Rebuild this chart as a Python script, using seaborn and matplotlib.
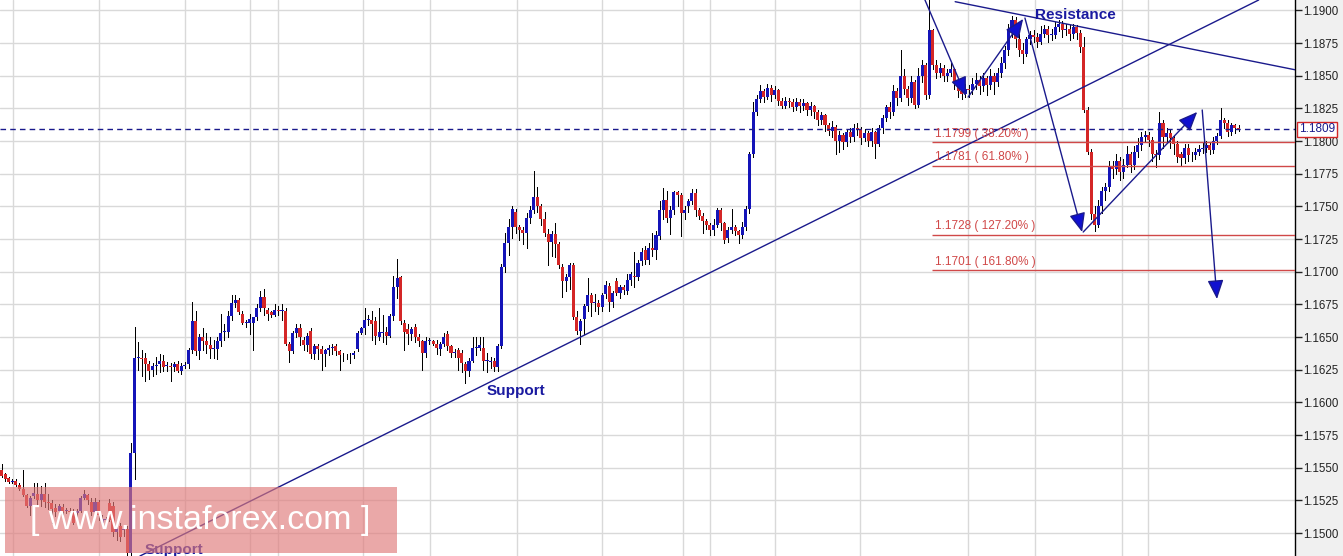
import numpy as np
import pandas as pd
import seaborn as sns
from matplotlib import pyplot as plt
from matplotlib.patches import Rectangle
import matplotlib.transforms as mtransforms

BASE = 1.1500  # all candle values below are pips above 1.1500

opens = [
    48, 45, 42, 39, 40, 37, 34, 29, 21, 28, 30, 25, 30, 24, 23, 19, 17, 20, 17, 17,
    17, 15, 17, 27, 29, 24, 16, 24, 8, 10, 23, 21, 1, 5, 2, 3, -15, 61,
    134, 134, 134, 129, 125, 128, 129, 132, 128, 128, 127, 129, 124, 128, 129, 140, 162, 139, 150, 147,
    144, 141, 141, 147, 154, 154, 166, 176, 178, 168, 161, 161,
    161, 165, 172, 181, 171, 169, 167, 171, 170, 170, 145, 139, 153, 157, 148, 144, 155, 137, 143, 141,
    137, 140, 142, 143, 139, 136, 136, 136, 136, 141, 153, 157, 163, 163, 162,
    150, 153, 154, 151, 166, 188, 196, 161, 156, 152, 158, 150, 147, 138, 147, 147, 145, 141, 145, 152,
    143, 138, 140, 138, 129, 124, 132, 142, 142, 142, 132, 131, 132, 127,
    143, 204, 222, 234, 246, 234, 232, 230, 241, 247, 257, 250, 240, 229, 223, 229, 221, 204, 193, 196,
    205, 165, 155, 164, 174, 182, 176, 176, 173, 183, 189, 177, 193, 184, 188, 185,
    194, 197, 196,
    208, 217, 209, 218, 217, 227, 247, 255, 241, 247, 261, 259, 245, 250, 254, 260, 247, 243, 239, 236,
    232, 236, 247, 237, 226, 232, 234, 231, 228, 234, 248, 290,
    322, 332, 338, 334, 341, 335, 339, 331, 327, 331, 330, 326, 330, 327, 329, 324, 327, 322, 316, 320,
    312, 308, 311, 300, 305, 299, 307, 303, 310, 309, 302, 306, 300, 307, 298, 310, 318, 326, 322, 338,
    333, 350, 340, 333, 345, 328, 350, 358, 335, 385, 358, 352, 356, 350, 352, 355, 345, 338, 336, 340,
    339, 344, 347, 342, 348, 343, 350, 345, 352, 360, 370, 385, 393, 378, 370, 367, 378, 381, 380, 376,
    382, 386, 381, 381, 387, 390, 385, 386, 382, 387, 383, 372, 324, 292, 244, 236, 250, 262, 265, 280,
    279, 285, 276, 282, 290, 282, 292, 297, 303, 305, 301, 290, 289, 314, 303, 306, 302, 298, 290, 287,
    295, 289, 289, 292, 294, 295, 297, 293, 300, 304, 316, 314, 307, 312, 310,
]
highs = [
    53, 46, 43, 41, 41, 38, 48, 30, 28, 38, 38, 36, 38, 30, 25, 22, 22, 22, 19, 19,
    18, 18, 28, 33, 30, 27, 27, 25, 14, 12, 26, 24, 5, 8, 5, 5, 69, 158,
    146, 140, 138, 132, 130, 135, 137, 136, 131, 130, 131, 132, 130, 131, 142, 177, 170, 152, 157, 153,
    150, 148, 150, 168, 160, 170, 182, 182, 180, 170, 163, 168,
    165, 175, 185, 187, 172, 170, 175, 174, 175, 172, 146, 155, 160, 160, 150, 153, 157, 145, 145, 143,
    141, 144, 145, 145, 140, 138, 137, 138, 139, 155, 158, 172, 167, 170, 165,
    172, 167, 158, 168, 197, 210, 197, 163, 160, 158, 160, 152, 148, 150, 149, 148, 148, 146, 153, 155,
    144, 141, 142, 140, 131, 134, 150, 150, 150, 150, 138, 135, 134, 145,
    206, 230, 240, 250, 248, 236, 234, 245, 250, 277, 265, 252, 246, 233, 231, 237, 223, 206, 198, 207,
    207, 170, 164, 175, 195, 184, 183, 178, 184, 193, 191, 185, 195, 190, 190, 198,
    200, 215, 209,
    218, 220, 222, 230, 231, 254, 264, 262, 250, 262, 262, 260, 250, 256, 263, 263, 249, 245, 240, 237,
    240, 249, 249, 238, 234, 248, 236, 232, 238, 250, 292, 330,
    335, 343, 340, 344, 343, 342, 340, 333, 334, 333, 332, 333, 332, 332, 330, 330, 328, 324, 322, 321,
    314, 315, 312, 308, 306, 309, 310, 313, 314, 311, 309, 308, 310, 308, 312, 320, 328, 330, 343, 341,
    370, 355, 342, 350, 347, 356, 362, 360, 408, 386, 362, 360, 358, 355, 360, 356, 348, 341, 344, 343,
    348, 352, 350, 352, 350, 355, 352, 356, 364, 373, 390, 396, 395, 382, 375, 380, 384, 385, 383, 388,
    389, 388, 386, 391, 393, 392, 390, 389, 390, 389, 385, 380, 326, 294, 250, 255, 265, 268, 285, 285,
    290, 288, 286, 296, 292, 296, 302, 307, 308, 307, 303, 293, 322, 316, 310, 309, 304, 300, 292, 298,
    298, 292, 295, 297, 299, 300, 299, 303, 306, 325, 318, 316, 314, 313, 312,
]
lows = [
    43, 40, 38, 38, 36, 33, 28, 20, 14, 27, 22, 21, 20, 18, 8, 13, 12, 14, 15, 15,
    7, 12, 16, 26, 22, 14, 13, 10, 6, 8, 9, -2, -5, -6, -2, -17, -17, 41,
    125, 120, 116, 118, 120, 122, 123, 124, 124, 116, 124, 123, 122, 126, 126, 138, 136, 133, 140, 138,
    134, 134, 133, 143, 148, 150, 163, 173, 168, 160, 158, 152,
    140, 163, 170, 167, 163, 165, 166, 167, 163, 144, 131, 138, 150, 144, 140, 139, 134, 133, 133, 125,
    128, 136, 137, 136, 125, 132, 133, 130, 134, 139, 152, 152, 159, 148, 145,
    148, 146, 145, 150, 163, 180, 160, 140, 145, 148, 146, 143, 125, 135, 145, 144, 137, 136, 143, 140,
    135, 135, 125, 123, 115, 120, 131, 136, 140, 125, 123, 126, 124, 124,
    142, 200, 213, 226, 230, 224, 221, 218, 237, 245, 246, 236, 227, 205, 212, 211, 203, 181, 185, 187,
    164, 152, 145, 152, 170, 166, 170, 168, 170, 180, 170, 173, 182, 180, 183, 183,
    190, 188, 194,
    205, 206, 206, 212, 210, 225, 240, 238, 229, 244, 250, 227, 240, 246, 252, 243, 240, 230, 233, 228,
    228, 234, 232, 222, 223, 230, 228, 222, 226, 232, 245, 288,
    320, 330, 330, 332, 331, 333, 328, 325, 325, 326, 323, 324, 322, 324, 320, 320, 318, 312, 313, 308,
    305, 303, 290, 292, 294, 296, 299, 300, 305, 298, 300, 296, 296, 287, 296, 306, 315, 318, 320, 328,
    331, 336, 328, 330, 325, 326, 345, 332, 333, 355, 348, 349, 346, 346, 350, 340, 334, 332, 334, 334,
    336, 340, 336, 338, 335, 340, 336, 342, 349, 356, 366, 380, 372, 365, 360, 365, 374, 376, 372, 374,
    380, 376, 377, 379, 384, 380, 381, 377, 379, 378, 368, 322, 290, 240, 231, 234, 245, 255, 262, 272,
    275, 270, 272, 280, 276, 279, 288, 293, 300, 296, 285, 280, 286, 295, 300, 295, 290, 284, 282, 283,
    285, 285, 286, 289, 291, 292, 290, 291, 298, 302, 310, 304, 305, 306, 308,
]
closes = [
    44, 41, 39, 39, 37, 34, 29, 21, 27, 31, 25, 30, 24, 23, 18, 16, 21, 16, 17, 16,
    8, 17, 27, 30, 25, 16, 24, 14, 11, 10, 10, 1, 4, -3, 3, -15, 61, 134,
    134, 133, 129, 124, 128, 128, 132, 127, 128, 127, 129, 124, 128, 128, 140, 162, 139, 150, 147, 144,
    141, 141, 147, 153, 154, 166, 176, 178, 169, 161, 161, 164,
    165, 172, 181, 172, 168, 167, 171, 170, 170, 145, 139, 153, 157, 150, 144, 151, 137, 143, 141, 137,
    140, 142, 142, 139, 136, 136, 136, 136, 138, 153, 157, 163, 163, 160, 151,
    154, 153, 151, 166, 188, 195, 162, 154, 152, 156, 150, 147, 138, 147, 147, 145, 142, 145, 150, 143,
    138, 138, 134, 130, 124, 132, 142, 142, 144, 132, 132, 131, 127, 143,
    204, 222, 234, 248, 234, 232, 230, 241, 247, 257, 250, 240, 230, 223, 229, 221, 205, 193, 196, 205,
    165, 155, 162, 174, 182, 176, 176, 173, 182, 190, 177, 184, 184, 188, 186, 194,
    198, 196, 207,
    215, 209, 218, 217, 228, 247, 255, 241, 247, 261, 259, 245, 247, 254, 260, 247, 243, 239, 236, 232,
    236, 247, 237, 224, 232, 234, 231, 228, 234, 248, 290, 322,
    332, 338, 334, 341, 335, 339, 331, 327, 331, 330, 326, 330, 327, 329, 324, 327, 322, 316, 320, 312,
    308, 311, 300, 305, 299, 307, 303, 310, 309, 302, 306, 300, 307, 298, 310, 318, 326, 322, 338, 333,
    350, 340, 333, 345, 328, 350, 358, 335, 385, 358, 352, 356, 350, 352, 355, 345, 338, 336, 340, 339,
    344, 347, 342, 348, 343, 350, 345, 352, 360, 370, 385, 393, 378, 370, 367, 378, 381, 380, 376, 382,
    386, 381, 381, 387, 390, 385, 386, 382, 387, 383, 372, 324, 292, 244, 236, 250, 262, 265, 280, 279,
    285, 276, 282, 290, 282, 292, 297, 303, 305, 301, 290, 289, 314, 303, 306, 302, 298, 288, 287, 295,
    289, 289, 292, 294, 295, 297, 293, 300, 304, 316, 314, 307, 312, 310, 309,
]

# vertical (session) grid lines, as candle positions
day_lines = [3.2, 27.1, 51.0, 69.1, 76.9, 100.5, 119.2, 143.4, 167.0, 189.5, 197.0, 215.1, 238.7,
             268.8, 287.4, 311.5, 318.7]

fib_levels = [1.1799, 1.1781, 1.1728, 1.1701]
fib_names = ["38.20%", "61.80%", "127.20%", "161.80%"]
last_price = 1.1809

df = pd.DataFrame({"open": opens, "high": highs, "low": lows, "close": closes})
df[["open", "high", "low", "close"]] = BASE + df[["open", "high", "low", "close"]] / 1e4
df["i"] = np.arange(len(df))
df["up"] = df["close"] >= df["open"]

sns.set_theme(style="white")
plt.rcParams["font.family"] = ["Liberation Sans", "DejaVu Sans"]

blue = "#1414b8"
red = "#d42626"
navy = "#1a1a8c"

fig = plt.figure(figsize=(13.43, 5.56), dpi=100, facecolor="#f0f0f0")
ax = fig.add_axes([0, 0, 1295 / 1343, 1])
ax.set_facecolor("white")
ax.set_xlim(-0.42, 359.7)
ax.set_ylim(1.14824, 1.19080)

ax.set_yticks(np.arange(1.1500, 1.19001, 0.0025))
ax.yaxis.set_major_formatter(plt.FormatStrFormatter("%.4f"))
ax.yaxis.tick_right()
ax.tick_params(axis="y", right=True, length=5, width=1, pad=1, labelsize=8.3, colors="#222222")
ax.set_xticks([])
ax.grid(axis="y", color="#d9d9d9", lw=1, zorder=0)
for v in day_lines:
    ax.axvline(v, color="#d9d9d9", lw=1, zorder=0)
for s in ["left", "top", "bottom"]:
    ax.spines[s].set_visible(False)
ax.spines["right"].set_color("black")
ax.spines["right"].set_linewidth(1)

# candles: 1px wicks, solid bodies
ax.vlines(df["i"], df["low"], df["high"], color="black", lw=0.72, zorder=2, antialiased=False)
body = (df["close"] - df["open"]).abs().clip(lower=0.00006)
bottom = df[["open", "close"]].min(axis=1)
ax.bar(df["i"], body, bottom=bottom, width=0.85, color=np.where(df["up"], blue, red),
       zorder=3, linewidth=0, antialiased=False)

# last price
ax.axhline(last_price, color=navy, lw=1, ls=(0, (4, 3)), zorder=4)
ax.text(1.003, last_price, "1.1809", transform=mtransforms.blended_transform_factory(ax.transAxes, ax.transData),
        ha="left", va="center", fontsize=8.5, color=navy, clip_on=False,
        bbox=dict(boxstyle="square,pad=0.15", fc="white", ec="#d42626", lw=1))

# fibonacci levels
for lv, nm in zip(fib_levels, fib_names):
    ax.hlines(lv, 258.8, 360, color="#d04848", lw=1, zorder=4)
    ax.text(259.6, lv + 0.00022, f"{lv:.4f} ( {nm} )", fontsize=8.5, color="#d04848", va="bottom", ha="left", zorder=5)

# trend lines
ax.plot([38.5, 349.6], [1.14824, 1.1908], color=navy, lw=1, zorder=4)
ax.plot([265.2, 359.7], [1.19067, 1.18546], color=navy, lw=1, zorder=4)

arrows = [
    ((256.8, 1.1908), (268.2, 1.18345)),
    ((268.8, 1.18337), (284.1, 1.18935)),
    ((284.6, 1.18942), (300.5, 1.17304)),
    ((300.8, 1.17304), (332.5, 1.18223)),
    ((333.9, 1.18238), (338.0, 1.16791)),
]
for start, tip in arrows:
    ax.annotate("", xy=tip, xytext=start,
                arrowprops=dict(arrowstyle="-|>,head_length=0.9,head_width=0.38", color=navy, fc="#1010d0",
                                lw=1, mutation_scale=13, shrinkA=0, shrinkB=0), zorder=6)

ax.text(298.5, 1.18965, "Resistance", fontsize=11, fontweight="bold", color="#1a1aa0", ha="center", va="center", zorder=6)
ax.text(143.1, 1.16087, "Support", fontsize=11, fontweight="bold", color="#1a1aa0", ha="center", va="center", zorder=6)
ax.text(39.9, 1.14923, "Support", fontsize=11, fontweight="bold", color="#1a1aa0", ha="left", va="top", zorder=6)

# watermark
fig.add_artist(Rectangle((5 / 1343, 3 / 556), 392 / 1343, 66 / 556, transform=fig.transFigure,
                         fc="#e07a7a", alpha=0.65, ec="none", zorder=10))
fig.text(200 / 1343, 1 - 521 / 556, "[ www.instaforex.com ]", color="white", fontsize=24.5,
         ha="center", va="center", zorder=11)

fig.savefig("out.png", dpi=100, facecolor=fig.get_facecolor())
